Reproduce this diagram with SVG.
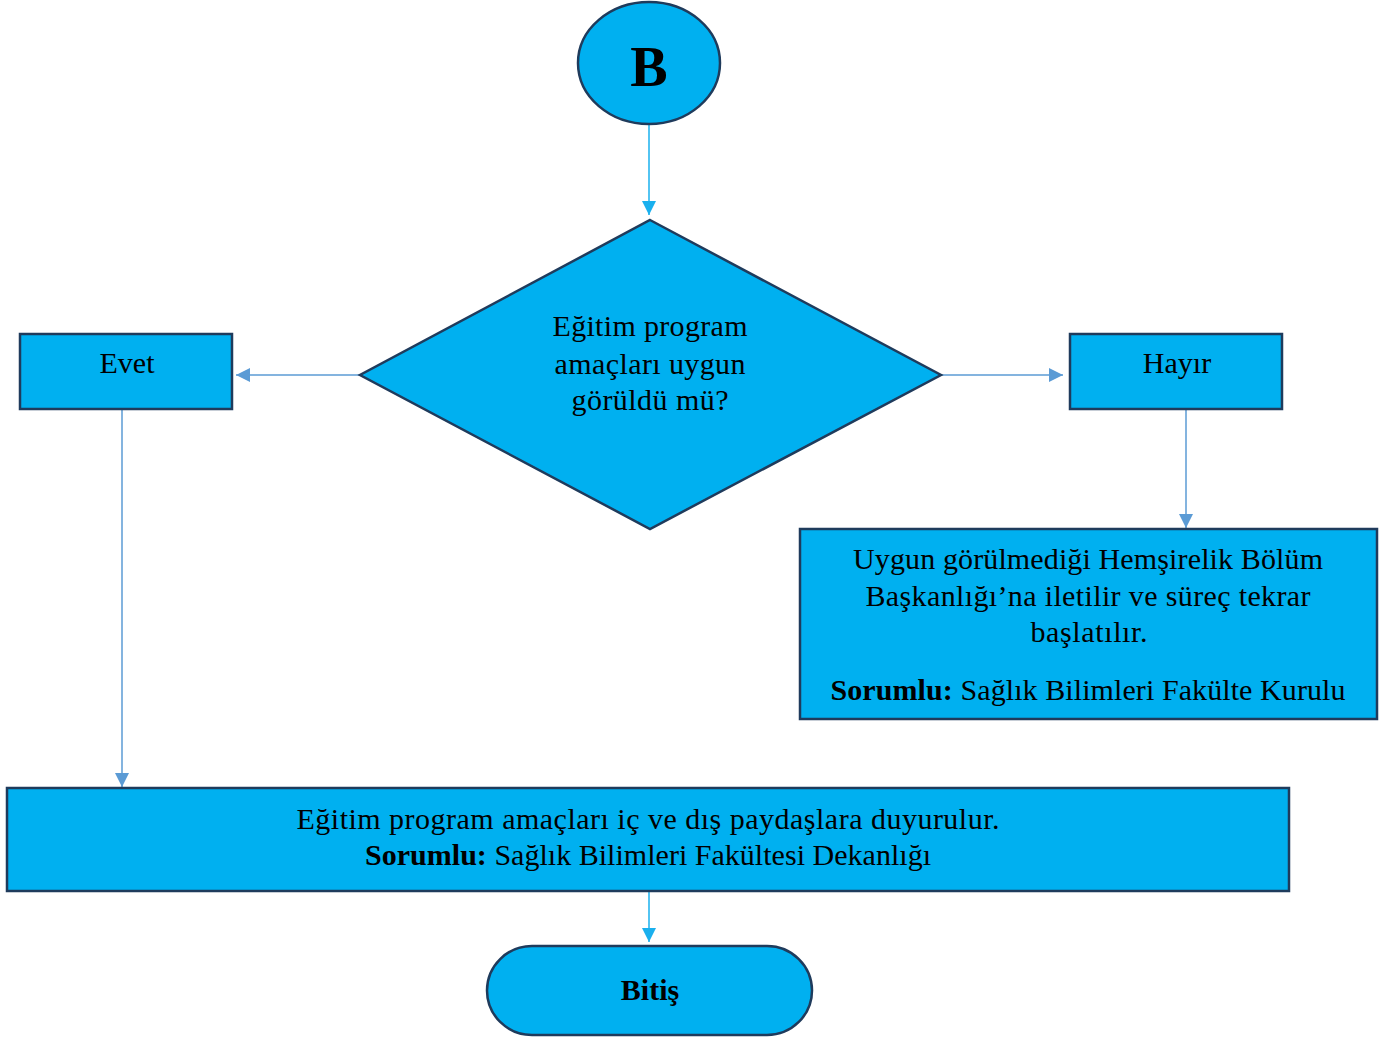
<svg xmlns="http://www.w3.org/2000/svg" width="1392" height="1041" viewBox="0 0 1392 1041">
<style>
.n{fill:#00b0f0;stroke:#1f3b5c;stroke-width:2.5}
.t{font-family:"Liberation Serif","DejaVu Serif",serif;font-size:30px;fill:#000;text-anchor:middle}
.b{font-weight:bold}
.c1{stroke:#1ab0ee;stroke-width:1.5;fill:none}
.c2{stroke:#5b9bd5;stroke-width:1.5;fill:none}
</style>
<defs>
<marker id="a1" markerWidth="14" markerHeight="14" refX="10" refY="5" orient="auto" markerUnits="userSpaceOnUse" viewBox="0 0 10 10"><path d="M0,0 L10,5 L0,10 z" fill="#1ab0ee"/></marker>
<marker id="a2" markerWidth="14" markerHeight="14" refX="10" refY="5" orient="auto" markerUnits="userSpaceOnUse" viewBox="0 0 10 10"><path d="M0,0 L10,5 L0,10 z" fill="#5b9bd5"/></marker>
</defs>
<rect width="1392" height="1041" fill="#fff"/>
<g id="connectors">
<line class="c1" x1="649" y1="124" x2="649" y2="215" marker-end="url(#a1)"/>
<line class="c2" x1="360" y1="375" x2="236" y2="375" marker-end="url(#a2)"/>
<line class="c2" x1="941" y1="375" x2="1063" y2="375" marker-end="url(#a2)"/>
<line class="c2" x1="1186" y1="409" x2="1186" y2="528" marker-end="url(#a2)"/>
<line class="c2" x1="122" y1="409" x2="122" y2="787" marker-end="url(#a2)"/>
<line class="c1" x1="649" y1="891" x2="649" y2="942" marker-end="url(#a1)"/>
</g>
<g id="start">
<ellipse class="n" cx="649" cy="63" rx="71" ry="61"/>
<text class="t b" x="649" y="86" style="font-size:56px">B</text>
</g>
<g id="decision">
<polygon class="n" points="650,220 941,375 650,529 360,375"/>
<text class="t" x="650" y="336" textLength="195">Eğitim program</text>
<text class="t" x="650" y="374" textLength="191">amaçları uygun</text>
<text class="t" x="650" y="410" textLength="157">görüldü mü?</text>
</g>
<g id="evet">
<rect class="n" x="20" y="334" width="212" height="75"/>
<text class="t" x="127" y="373">Evet</text>
</g>
<g id="hayir">
<rect class="n" x="1070" y="334" width="212" height="75"/>
<text class="t" x="1177" y="373">Hayır</text>
</g>
<g id="notify">
<rect class="n" x="800" y="529" width="577" height="190"/>
<text class="t" x="1088" y="569" textLength="470">Uygun görülmediği Hemşirelik Bölüm</text>
<text class="t" x="1088" y="606" textLength="445">Başkanlığı’na iletilir ve süreç tekrar</text>
<text class="t" x="1089" y="642" textLength="117">başlatılır.</text>
<text class="t" x="1088" y="700" textLength="515"><tspan class="b">Sorumlu:</tspan> Sağlık Bilimleri Fakülte Kurulu</text>
</g>
<g id="announce">
<rect class="n" x="7" y="788" width="1282" height="103"/>
<text class="t" x="648" y="829" textLength="703">Eğitim program amaçları iç ve dış paydaşlara duyurulur.</text>
<text class="t" x="648" y="865" textLength="566"><tspan class="b">Sorumlu:</tspan> Sağlık Bilimleri Fakültesi Dekanlığı</text>
</g>
<g id="end">
<rect class="n" x="487" y="946" width="325" height="89" rx="45" ry="45"/>
<text class="t b" x="650" y="1000">Bitiş</text>
</g>
</svg>
